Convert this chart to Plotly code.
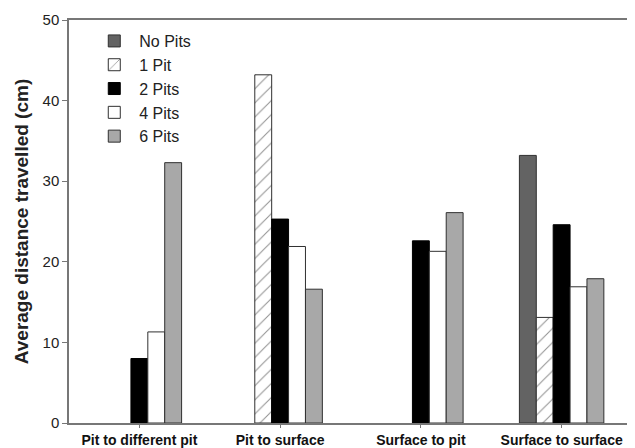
import plotly.graph_objects as go

categories = ["Pit to different pit", "Pit to surface", "Surface to pit", "Surface to surface"]
no_pits = [None, None, None, 33.2]
one_pit = [None, 43.2, None, 13.1]
two_pits = [8.0, 25.3, 22.6, 24.6]
four_pits = [11.3, 21.9, 21.3, 16.9]
six_pits = [32.3, 16.6, 26.1, 17.9]

font = "Liberation Sans, Arial, sans-serif"
edge = "#303030"

fig = go.Figure()
fig.add_trace(go.Bar(name="No Pits", x=categories, y=no_pits,
                     marker=dict(color="#636363", line=dict(color=edge, width=1))))
fig.add_trace(go.Bar(name="1 Pit", x=categories, y=one_pit,
                     marker=dict(color="white", line=dict(color=edge, width=1),
                                 pattern=dict(shape="/", fgcolor="#222222", bgcolor="white",
                                              size=10, solidity=0.1))))
fig.add_trace(go.Bar(name="2 Pits", x=categories, y=two_pits,
                     marker=dict(color="black", line=dict(color="black", width=1))))
fig.add_trace(go.Bar(name="4 Pits", x=categories, y=four_pits,
                     marker=dict(color="white", line=dict(color=edge, width=1))))
fig.add_trace(go.Bar(name="6 Pits", x=categories, y=six_pits,
                     marker=dict(color="#a8a8a8", line=dict(color=edge, width=1))))

fig.update_layout(
    width=627, height=440,
    margin=dict(l=61, r=3, t=12, b=25, autoexpand=False),
    paper_bgcolor="white", plot_bgcolor="white",
    barmode="group", bargap=0.4, bargroupgap=0,
    font=dict(family=font, color="#222222"),
    legend=dict(x=0.036, y=0.99, xanchor="left", yanchor="top",
                font=dict(size=16, family=font, color="#222222"),
                bgcolor="rgba(0,0,0,0)", tracegroupgap=0, itemwidth=40),
    showlegend=True,
)
fig.update_xaxes(showline=True, linecolor="#777777", linewidth=1.5, mirror=True,
                 ticks="outside", ticklen=3, tickcolor="#777777",
                 tickfont=dict(size=14, family=font, color="#111111", weight="bold"),
                 showgrid=False, automargin=False)
fig.update_yaxes(range=[0, 50], dtick=10, showline=True, linecolor="#777777", linewidth=1.5,
                 mirror=True, ticks="outside", ticklen=5, tickcolor="#777777",
                 tickfont=dict(size=15, family=font, color="#222222"),
                 showgrid=False, zeroline=False, automargin=False,
                 title=dict(text="Average distance travelled (cm)",
                            font=dict(size=19, family=font, color="#222222", weight="bold"),
                            standoff=9))

fig.write_html("out.html")
